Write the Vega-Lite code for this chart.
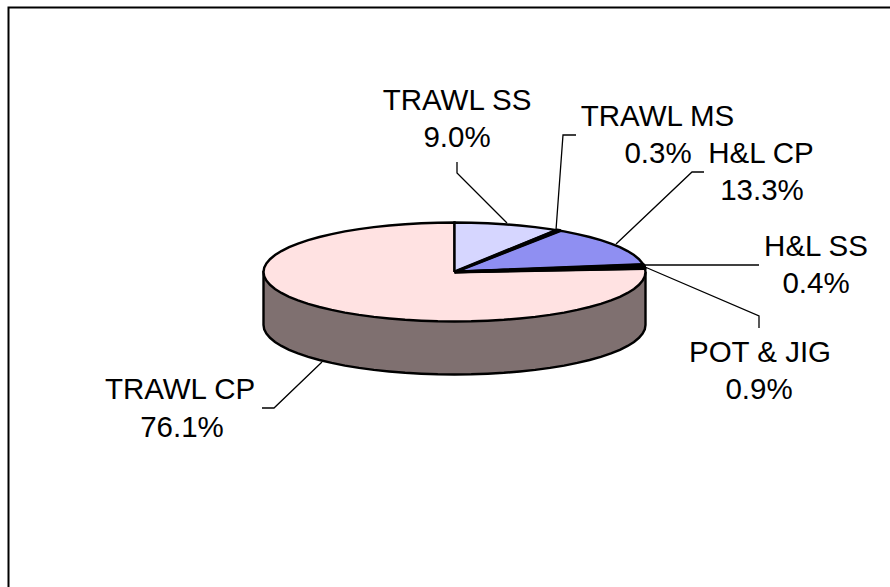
{"$schema":"https://vega.github.io/schema/vega-lite/v6.json","width":890,"height":587,"padding":0,"autosize":{"type":"fit","contains":"padding"},"background":"white","view":{"stroke":null},
"datasets":{
"outline":[
{"s":"SIDE","n":1,"x":191,"y":0},{"s":"SIDE","n":2,"x":191,"y":-53},{"s":"SIDE","n":3,"x":190.3,"y":-57.3},{"s":"SIDE","n":4,"x":188.1,"y":-61.6},{"s":"SIDE","n":5,"x":184.5,"y":-65.8},{"s":"SIDE","n":6,"x":179.5,"y":-69.9},{"s":"SIDE","n":7,"x":173.1,"y":-73.9},{"s":"SIDE","n":8,"x":165.4,"y":-77.8},{"s":"SIDE","n":9,"x":156.5,"y":-81.4},{"s":"SIDE","n":10,"x":146.3,"y":-84.8},{"s":"SIDE","n":11,"x":135.1,"y":-88},{"s":"SIDE","n":12,"x":122.8,"y":-90.9},{"s":"SIDE","n":13,"x":109.6,"y":-93.6},{"s":"SIDE","n":14,"x":95.5,"y":-95.9},{"s":"SIDE","n":15,"x":80.7,"y":-97.9},{"s":"SIDE","n":16,"x":65.3,"y":-99.5},{"s":"SIDE","n":17,"x":49.4,"y":-100.8},{"s":"SIDE","n":18,"x":33.2,"y":-101.7},{"s":"SIDE","n":19,"x":16.7,"y":-102.3},{"s":"SIDE","n":20,"x":0,"y":-102.5},{"s":"SIDE","n":21,"x":-16.7,"y":-102.3},{"s":"SIDE","n":22,"x":-33.2,"y":-101.7},{"s":"SIDE","n":23,"x":-49.4,"y":-100.8},{"s":"SIDE","n":24,"x":-65.3,"y":-99.5},{"s":"SIDE","n":25,"x":-80.7,"y":-97.9},{"s":"SIDE","n":26,"x":-95.5,"y":-95.9},{"s":"SIDE","n":27,"x":-109.6,"y":-93.6},{"s":"SIDE","n":28,"x":-122.8,"y":-90.9},{"s":"SIDE","n":29,"x":-135.1,"y":-88},{"s":"SIDE","n":30,"x":-146.3,"y":-84.8},{"s":"SIDE","n":31,"x":-156.5,"y":-81.4},{"s":"SIDE","n":32,"x":-165.4,"y":-77.8},{"s":"SIDE","n":33,"x":-173.1,"y":-73.9},{"s":"SIDE","n":34,"x":-179.5,"y":-69.9},{"s":"SIDE","n":35,"x":-184.5,"y":-65.8},{"s":"SIDE","n":36,"x":-188.1,"y":-61.6},{"s":"SIDE","n":37,"x":-190.3,"y":-57.3},{"s":"SIDE","n":38,"x":-191,"y":-53},{"s":"SIDE","n":39,"x":-191,"y":0},{"s":"SIDE","n":40,"x":191,"y":0},
{"s":"TRAWL CP","n":1,"x":0,"y":0},{"s":"TRAWL CP","n":2,"x":190.5,"y":3.5},{"s":"TRAWL CP","n":3,"x":191,"y":0},{"s":"TRAWL CP","n":4,"x":190.3,"y":-4.3},{"s":"TRAWL CP","n":5,"x":188.1,"y":-8.6},{"s":"TRAWL CP","n":6,"x":184.5,"y":-12.8},{"s":"TRAWL CP","n":7,"x":179.5,"y":-16.9},{"s":"TRAWL CP","n":8,"x":173.1,"y":-20.9},{"s":"TRAWL CP","n":9,"x":165.4,"y":-24.8},{"s":"TRAWL CP","n":10,"x":156.5,"y":-28.4},{"s":"TRAWL CP","n":11,"x":146.3,"y":-31.8},{"s":"TRAWL CP","n":12,"x":135.1,"y":-35},{"s":"TRAWL CP","n":13,"x":122.8,"y":-37.9},{"s":"TRAWL CP","n":14,"x":109.6,"y":-40.6},{"s":"TRAWL CP","n":15,"x":95.5,"y":-42.9},{"s":"TRAWL CP","n":16,"x":80.7,"y":-44.9},{"s":"TRAWL CP","n":17,"x":65.3,"y":-46.5},{"s":"TRAWL CP","n":18,"x":49.4,"y":-47.8},{"s":"TRAWL CP","n":19,"x":33.2,"y":-48.7},{"s":"TRAWL CP","n":20,"x":16.7,"y":-49.3},{"s":"TRAWL CP","n":21,"x":0,"y":-49.5},{"s":"TRAWL CP","n":22,"x":-16.7,"y":-49.3},{"s":"TRAWL CP","n":23,"x":-33.2,"y":-48.7},{"s":"TRAWL CP","n":24,"x":-49.4,"y":-47.8},{"s":"TRAWL CP","n":25,"x":-65.3,"y":-46.5},{"s":"TRAWL CP","n":26,"x":-80.7,"y":-44.9},{"s":"TRAWL CP","n":27,"x":-95.5,"y":-42.9},{"s":"TRAWL CP","n":28,"x":-109.6,"y":-40.6},{"s":"TRAWL CP","n":29,"x":-122.8,"y":-37.9},{"s":"TRAWL CP","n":30,"x":-135.1,"y":-35},{"s":"TRAWL CP","n":31,"x":-146.3,"y":-31.8},{"s":"TRAWL CP","n":32,"x":-156.5,"y":-28.4},{"s":"TRAWL CP","n":33,"x":-165.4,"y":-24.8},{"s":"TRAWL CP","n":34,"x":-173.1,"y":-20.9},{"s":"TRAWL CP","n":35,"x":-179.5,"y":-16.9},{"s":"TRAWL CP","n":36,"x":-184.5,"y":-12.8},{"s":"TRAWL CP","n":37,"x":-188.1,"y":-8.6},{"s":"TRAWL CP","n":38,"x":-190.3,"y":-4.3},{"s":"TRAWL CP","n":39,"x":-191,"y":0},{"s":"TRAWL CP","n":40,"x":-190.3,"y":4.3},{"s":"TRAWL CP","n":41,"x":-188.1,"y":8.6},{"s":"TRAWL CP","n":42,"x":-184.5,"y":12.8},{"s":"TRAWL CP","n":43,"x":-179.5,"y":16.9},{"s":"TRAWL CP","n":44,"x":-173.1,"y":20.9},{"s":"TRAWL CP","n":45,"x":-165.4,"y":24.8},{"s":"TRAWL CP","n":46,"x":-156.5,"y":28.4},{"s":"TRAWL CP","n":47,"x":-146.3,"y":31.8},{"s":"TRAWL CP","n":48,"x":-135.1,"y":35},{"s":"TRAWL CP","n":49,"x":-122.8,"y":37.9},{"s":"TRAWL CP","n":50,"x":-109.6,"y":40.6},{"s":"TRAWL CP","n":51,"x":-95.5,"y":42.9},{"s":"TRAWL CP","n":52,"x":-80.7,"y":44.9},{"s":"TRAWL CP","n":53,"x":-65.3,"y":46.5},{"s":"TRAWL CP","n":54,"x":-49.4,"y":47.8},{"s":"TRAWL CP","n":55,"x":-33.2,"y":48.7},{"s":"TRAWL CP","n":56,"x":-16.7,"y":49.3},{"s":"TRAWL CP","n":57,"x":0,"y":49.5},{"s":"TRAWL CP","n":58,"x":0,"y":0},
{"s":"TRAWL SS","n":1,"x":0,"y":0},{"s":"TRAWL SS","n":2,"x":0,"y":49.5},{"s":"TRAWL SS","n":3,"x":16.7,"y":49.3},{"s":"TRAWL SS","n":4,"x":33.2,"y":48.7},{"s":"TRAWL SS","n":5,"x":49.4,"y":47.8},{"s":"TRAWL SS","n":6,"x":65.3,"y":46.5},{"s":"TRAWL SS","n":7,"x":80.7,"y":44.9},{"s":"TRAWL SS","n":8,"x":95.5,"y":42.9},{"s":"TRAWL SS","n":9,"x":102.3,"y":41.8},{"s":"TRAWL SS","n":10,"x":0,"y":0},
{"s":"H&L CP","n":1,"x":0,"y":0},{"s":"H&L CP","n":2,"x":105.4,"y":41.3},{"s":"H&L CP","n":3,"x":109.6,"y":40.6},{"s":"H&L CP","n":4,"x":122.8,"y":37.9},{"s":"H&L CP","n":5,"x":135.1,"y":35},{"s":"H&L CP","n":6,"x":146.3,"y":31.8},{"s":"H&L CP","n":7,"x":156.5,"y":28.4},{"s":"H&L CP","n":8,"x":165.4,"y":24.8},{"s":"H&L CP","n":9,"x":173.1,"y":20.9},{"s":"H&L CP","n":10,"x":179.5,"y":16.9},{"s":"H&L CP","n":11,"x":184.5,"y":12.8},{"s":"H&L CP","n":12,"x":188.1,"y":8.6},{"s":"H&L CP","n":13,"x":188.8,"y":7.4},{"s":"H&L CP","n":14,"x":0,"y":0}
],
"thin":[
{"s":"TRAWL MS","n":1,"x":0,"y":0},{"s":"TRAWL MS","n":2,"x":102.3,"y":41.8},{"s":"TRAWL MS","n":3,"x":105.4,"y":41.3},{"s":"TRAWL MS","n":4,"x":0,"y":0},
{"s":"H&L SS","n":1,"x":0,"y":0},{"s":"H&L SS","n":2,"x":188.8,"y":7.4},{"s":"H&L SS","n":3,"x":189.5,"y":6.2},{"s":"H&L SS","n":4,"x":0,"y":0},
{"s":"POT & JIG","n":1,"x":0,"y":0},{"s":"POT & JIG","n":2,"x":189.5,"y":6.2},{"s":"POT & JIG","n":3,"x":190.5,"y":3.5},{"s":"POT & JIG","n":4,"x":0,"y":0}
],
"leaders":[
{"s":"TRAWL SS","n":1,"x":2.5,"y":110},{"s":"TRAWL SS","n":2,"x":2.5,"y":99},{"s":"TRAWL SS","n":3,"x":52.5,"y":49},
{"s":"TRAWL MS","n":1,"x":121.5,"y":137},{"s":"TRAWL MS","n":2,"x":108.5,"y":137},{"s":"TRAWL MS","n":3,"x":101.5,"y":42},
{"s":"H&L CP","n":1,"x":249.5,"y":100},{"s":"H&L CP","n":2,"x":237.5,"y":100},{"s":"H&L CP","n":3,"x":161.5,"y":28},
{"s":"H&L SS","n":1,"x":304.5,"y":7},{"s":"H&L SS","n":2,"x":190.5,"y":7},
{"s":"POT & JIG","n":1,"x":304.5,"y":-56},{"s":"POT & JIG","n":2,"x":304.5,"y":-44},{"s":"POT & JIG","n":3,"x":190.5,"y":5},
{"s":"TRAWL CP","n":1,"x":-192.5,"y":-136},{"s":"TRAWL CP","n":2,"x":-180.5,"y":-136},{"s":"TRAWL CP","n":3,"x":-132.5,"y":-90}
],
"frame":[{"n":1,"x":-446,"y":-315},{"n":2,"x":-446,"y":264.5},{"n":3,"x":435.5,"y":264.5}],
"labels":[
{"t":"TRAWL SS","x":2.5,"y":162},{"t":"9.0%","x":2.5,"y":125},
{"t":"TRAWL MS","x":203,"y":146},{"t":"0.3%","x":203.5,"y":109},
{"t":"H&L CP","x":306.5,"y":109},{"t":"13.3%","x":307.5,"y":72},
{"t":"H&L SS","x":361.5,"y":16},{"t":"0.4%","x":361.5,"y":-21},
{"t":"POT & JIG","x":305.5,"y":-90},{"t":"0.9%","x":304.5,"y":-127},
{"t":"TRAWL CP","x":-274.5,"y":-127},{"t":"76.1%","x":-272.5,"y":-165}
]},
"encoding":{
"x":{"field":"x","type":"quantitative","axis":null,"scale":{"domain":[-454.5,435.5],"nice":false,"zero":false}},
"y":{"field":"y","type":"quantitative","axis":null,"scale":{"domain":[-315,272],"nice":false,"zero":false}}
},
"layer":[
{"data":{"name":"frame"},"mark":{"type":"line","stroke":"#000000","strokeWidth":2,"strokeCap":"butt","clip":true},"encoding":{"order":{"field":"n","type":"quantitative"}}},
{"data":{"name":"leaders"},"mark":{"type":"line","stroke":"#000000","strokeWidth":1.3},"encoding":{"detail":{"field":"s"},"order":{"field":"n","type":"quantitative"}}},
{"data":{"name":"outline"},"mark":{"type":"line","filled":true,"stroke":"#000000","strokeWidth":2.4,"strokeJoin":"miter"},"encoding":{"fill":{"field":"s","type":"nominal","legend":null,"scale":{"domain":["SIDE","TRAWL CP","TRAWL SS","H&L CP"],"range":["#7f7070","#ffe2e2","#d6d6ff","#8f8ff2"]}},"order":{"field":"n","type":"quantitative"}}},
{"data":{"name":"thin"},"mark":{"type":"line","filled":true,"fill":"#000000","stroke":"#000000","strokeWidth":3.2,"strokeJoin":"round"},"encoding":{"detail":{"field":"s"},"order":{"field":"n","type":"quantitative"}}},
{"data":{"name":"labels"},"mark":{"type":"text","font":"Liberation Sans","fontSize":29.5,"fill":"#000000","align":"center","baseline":"alphabetic"},"encoding":{"text":{"field":"t"}}}
]}
